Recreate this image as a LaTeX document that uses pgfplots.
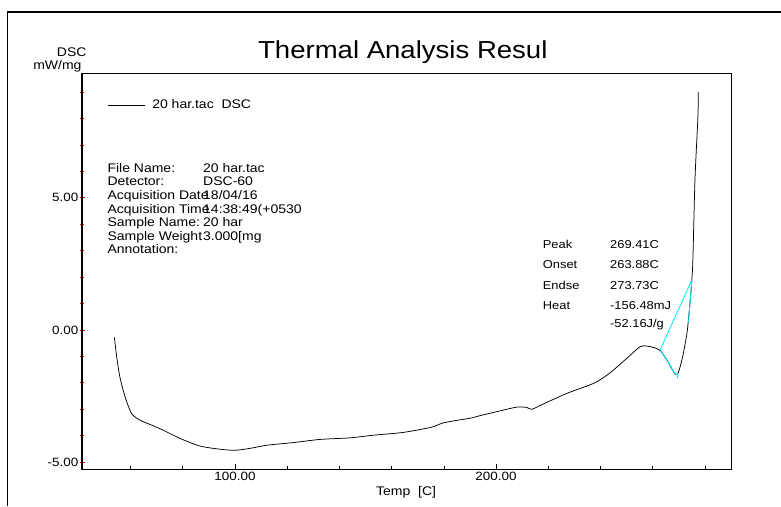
\documentclass[border=0pt]{standalone}
\usepackage{pgfplots}
\usepackage{pgfplotstable}
\pgfplotsset{compat=1.18}
\usepackage{fontspec}
\setmainfont[FakeStretch=1.12]{Liberation Sans}
\newcommand\fs[1]{\fontsize{#1}{#1}\selectfont}
\definecolor{intcyan}{RGB}{0,232,245}

% DSC signal, temperature [C] vs heat flow [mW/mg]
\pgfplotstableread{
T     DSC
53.8  -0.28
54.7  -1.01
55.9  -1.77
57.9  -2.53
60.4  -3.16
63.6  -3.41
68.1  -3.60
72.5  -3.79
78.9  -4.10
86.6  -4.39
94.3  -4.51
100.0 -4.55
105.7 -4.48
112.1 -4.36
122.3 -4.26
132.6 -4.14
144.1 -4.08
153.0 -3.98
163.2 -3.89
169.6 -3.79
176.0 -3.66
179.2 -3.53
184.3 -3.43
190.0 -3.34
193.9 -3.24
200.3 -3.09
205.4 -2.97
208.5 -2.91
211.8 -2.93
213.7 -3.00
218.1 -2.80
227.1 -2.40
234.8 -2.12
238.6 -1.96
243.7 -1.62
250.1 -1.07
255.2 -0.63
257.8 -0.61
260.3 -0.66
262.9 -0.78
265.5 -1.14
268.0 -1.58
269.4 -1.70
270.5 -1.40
271.5 -1.00
272.4 -0.55
273.3  0.00
274.4  1.13
275.0  1.90
275.4  2.64
276.2  5.67
277.3  8.00
277.5  9.00
}\dscdata

% endothermic peak region used for the integration
\pgfplotstableread{
T     DSC
262.9 -0.78
265.5 -1.14
268.0 -1.58
269.4 -1.70
}\peakdata

\begin{document}
\begin{tikzpicture}
\useasboundingbox (0,0) rectangle (781pt,506pt);
\draw[line width=1.3pt] (7.5pt,0pt) -- (7.5pt,494pt) -- (781pt,494pt);
\node[font=\fs{24.6}, anchor=base, inner sep=0pt] at (402.8pt,447.7pt) {Thermal Analysis Resul};

\begin{axis}[
  at={(82pt,36.7pt)}, anchor=south west,
  width=649.5pt, height=396pt, scale only axis,
  xmin=41.4, xmax=290.2, ymin=-5.27, ymax=9.71,
  axis line style={line width=1.1pt},
  xtick={100,200}, xticklabels={100.00,200.00},
  minor xtick={60,80,120,140,160,180,220,240,260,280},
  ytick={-5,0,5}, yticklabels={-5.00,0.00,5.00},
  minor ytick={-4,-3,-2,-1,1,2,3,4,6,7,8,9},
  xtick pos=bottom, ytick pos=left,
  xtick align=inside, ytick align=center,
  major x tick style={black, line width=0.6pt},
  minor x tick style={black, line width=0.6pt},
  major y tick style={red, line width=0.8pt},
  minor y tick style={red, line width=0.8pt},
  major tick length=5pt, minor tick length=3.2pt,
  tick label style={font=\fs{12}},
  xticklabel style={inner sep=0pt, yshift=-2.4pt},
  yticklabel style={inner sep=0pt, xshift=-1pt},
  xlabel={Temp\ \ [C]},
  xlabel style={at={(axis description cs:0.499,0)}, anchor=base, yshift=-25.7pt, inner sep=0pt, font=\fs{12.5}},
  legend style={draw=none, fill=none, at={(rel axis cs:0.040,0.92)}, anchor=west,
    inner sep=0pt, nodes={inner sep=0pt}, font=\fs{12.5}},
  legend image code/.code={\draw[black, line width=0.6pt] (0pt,0pt) -- (37pt,0pt);},
]
\addplot[black, line width=0.75pt, smooth, tension=0.45] table[x=T, y=DSC] {\dscdata};
\addlegendentry{\hspace{6.5pt}20 har.tac\ \ DSC}
% integration baseline and highlighted peak
\addplot[intcyan, line width=0.8pt, forget plot] coordinates {(262.9,-0.75) (275.0,1.89)};
\addplot[intcyan, line width=0.8pt, smooth, tension=0.45, forget plot] table[x=T, y=DSC] {\peakdata};
\addplot[intcyan, line width=0.8pt, forget plot] coordinates {(273.7,0.30) (274.4,1.13) (275.0,1.90)};
\addplot[intcyan, line width=0.8pt, forget plot] coordinates {(269.4,-1.62) (269.4,-1.82)};
\end{axis}

% axis unit
\node[font=\fs{12.5}, anchor=base, inner sep=0pt] at (71.7pt,449.3pt) {DSC};
\node[font=\fs{12.5}, anchor=base east, inner sep=0pt] at (81.7pt,436.5pt) {mW/mg};

% run information
\begin{scope}[every node/.style={font=\fs{12.5}, anchor=base west, inner sep=0pt}]
\node at (107.3pt,333.7pt) {File Name:};
\node at (107.3pt,320.0pt) {Detector:};
\node at (107.3pt,306.0pt) {Acquisition Date};
\node at (107.3pt,292.7pt) {Acquisition Time};
\node at (107.3pt,279.3pt) {Sample Name:};
\node at (107.3pt,265.3pt) {Sample Weight};
\node at (107.3pt,252.0pt) {Annotation:};
\node at (203pt,333.7pt) {20 har.tac};
\node at (203pt,320.0pt) {DSC-60};
\node at (203pt,306.0pt) {18/04/16};
\node at (203pt,292.7pt) {14:38:49(+0530};
\node at (203pt,279.3pt) {20 har};
\node at (203pt,265.3pt) {3.000[mg};
\end{scope}

% peak analysis
\begin{scope}[every node/.style={font=\fs{11.5}, anchor=base west, inner sep=0pt}]
\node at (542.7pt,257.3pt) {Peak};
\node at (542.7pt,237.0pt) {Onset};
\node at (542.7pt,216.0pt) {Endse};
\node at (542.7pt,196.0pt) {Heat};
\node at (610pt,257.3pt) {269.41C};
\node at (610pt,237.0pt) {263.88C};
\node at (610pt,216.0pt) {273.73C};
\node at (610pt,196.0pt) {-156.48mJ};
\node at (610pt,178.7pt) {-52.16J/g};
\end{scope}
\end{tikzpicture}
\end{document}
